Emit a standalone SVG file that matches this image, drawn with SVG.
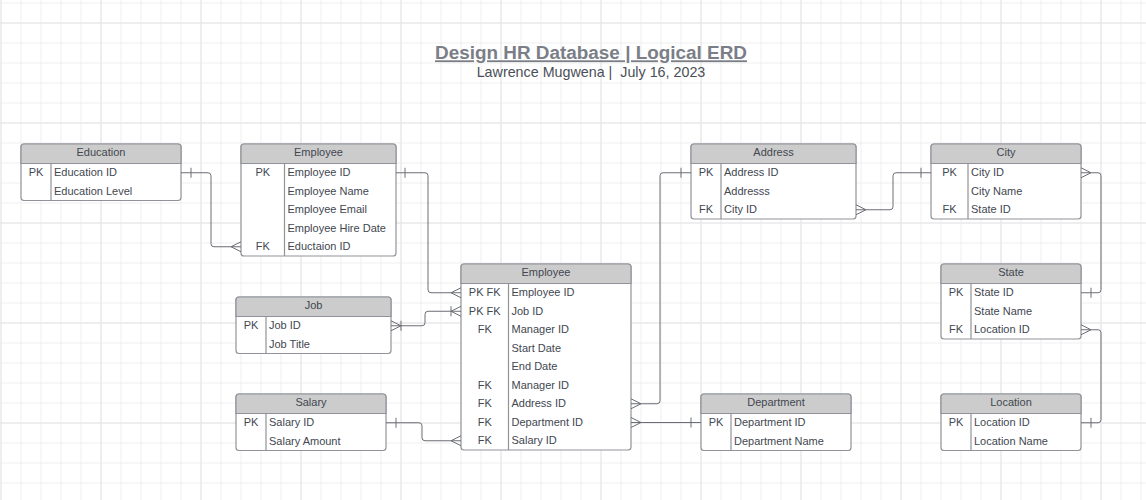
<svg xmlns="http://www.w3.org/2000/svg" width="1146" height="500" viewBox="0 0 1146 500">
<defs>
<pattern id="gMinor" width="20" height="20" patternUnits="userSpaceOnUse" x="0.5" y="2.5"><path d="M20 0.5 H0.5 V20" fill="none" stroke="#eeeeee" stroke-width="1"/></pattern>
<pattern id="gMajor" width="100" height="100" patternUnits="userSpaceOnUse" x="0.5" y="22.5"><path d="M100 0.5 H0.5 V100" fill="none" stroke="#e4e4e4" stroke-width="1"/></pattern>
</defs>
<style>
.box{fill:#ffffff;stroke:#909399;stroke-width:1.2}
.hdr{fill:#cccccc;stroke:#909399;stroke-width:1.2}
.sep{stroke:#909399;stroke-width:1.2}
text{font-family:"Liberation Sans",Arial,sans-serif;font-size:11px;fill:#424750}
.h{text-anchor:middle}
.k{text-anchor:middle}
.c{fill:none;stroke:#6b6e75;stroke-width:1}
.title{font-size:18px;font-weight:bold;fill:#7a7e87;text-decoration:underline}
.sub{font-size:14.3px;fill:#4a4f57}
</style>
<rect width="1146" height="500" fill="#ffffff"/>
<rect width="1146" height="500" fill="url(#gMinor)"/>
<rect width="1146" height="500" fill="url(#gMajor)"/>

<g id="title">
<text class="title" x="591" y="59.3" text-anchor="middle" textLength="312" lengthAdjust="spacingAndGlyphs">Design HR Database | Logical ERD</text>
<text class="sub" x="591" y="76.7" text-anchor="middle" xml:space="preserve">Lawrence Mugwena |  July 16, 2023</text>
</g>

<g id="education">
<rect class="box" x="21" y="144" width="160" height="56.5" rx="3"/>
<path class="hdr" d="M21 163.5 V147 Q21 144 24 144 H178 Q181 144 181 147 V163.5 Z"/>
<line class="sep" x1="51" y1="163.5" x2="51" y2="200.5"/>
<text class="h" x="101" y="156">Education</text>
<text class="k" x="36" y="176">PK</text>
<text x="54" y="176">Education ID</text>
<text x="54" y="194.5">Education Level</text>
</g>

<g id="employee-top">
<rect class="box" x="241" y="144" width="155" height="112" rx="3"/>
<path class="hdr" d="M241 163.5 V147 Q241 144 244 144 H393 Q396 144 396 147 V163.5 Z"/>
<line class="sep" x1="284.5" y1="163.5" x2="284.5" y2="256"/>
<text class="h" x="318.5" y="156">Employee</text>
<text class="k" x="262.75" y="176">PK</text>
<text x="287.5" y="176">Employee ID</text>
<text x="287.5" y="194.5">Employee Name</text>
<text x="287.5" y="213">Employee Email</text>
<text x="287.5" y="231.5">Employee Hire Date</text>
<text class="k" x="262.75" y="250">FK</text>
<text x="287.5" y="250">Eductaion ID</text>
</g>

<g id="job">
<rect class="box" x="236" y="297" width="155" height="56.5" rx="3"/>
<path class="hdr" d="M236 316.5 V300 Q236 297 239 297 H388 Q391 297 391 300 V316.5 Z"/>
<line class="sep" x1="266" y1="316.5" x2="266" y2="353.5"/>
<text class="h" x="313.5" y="309">Job</text>
<text class="k" x="251" y="329">PK</text>
<text x="269" y="329">Job ID</text>
<text x="269" y="347.5">Job Title</text>
</g>

<g id="salary">
<rect class="box" x="236" y="394" width="150" height="56.5" rx="3"/>
<path class="hdr" d="M236 413.5 V397 Q236 394 239 394 H383 Q386 394 386 397 V413.5 Z"/>
<line class="sep" x1="266" y1="413.5" x2="266" y2="450.5"/>
<text class="h" x="311" y="406">Salary</text>
<text class="k" x="251" y="426">PK</text>
<text x="269" y="426">Salary ID</text>
<text x="269" y="444.5">Salary Amount</text>
</g>

<g id="employee-main">
<rect class="box" x="461" y="264" width="170" height="186" rx="3"/>
<path class="hdr" d="M461 283.5 V267 Q461 264 464 264 H628 Q631 264 631 267 V283.5 Z"/>
<line class="sep" x1="508.5" y1="283.5" x2="508.5" y2="450"/>
<text class="h" x="546" y="276">Employee</text>
<text class="k" x="484.75" y="296">PK FK</text>
<text x="511.5" y="296">Employee ID</text>
<text class="k" x="484.75" y="314.5">PK FK</text>
<text x="511.5" y="314.5">Job ID</text>
<text class="k" x="484.75" y="333">FK</text>
<text x="511.5" y="333">Manager ID</text>
<text x="511.5" y="351.5">Start Date</text>
<text x="511.5" y="370">End Date</text>
<text class="k" x="484.75" y="388.5">FK</text>
<text x="511.5" y="388.5">Manager ID</text>
<text class="k" x="484.75" y="407">FK</text>
<text x="511.5" y="407">Address ID</text>
<text class="k" x="484.75" y="425.5">FK</text>
<text x="511.5" y="425.5">Department ID</text>
<text class="k" x="484.75" y="444">FK</text>
<text x="511.5" y="444">Salary ID</text>
</g>

<g id="address">
<rect class="box" x="691" y="144" width="165" height="75" rx="3"/>
<path class="hdr" d="M691 163.5 V147 Q691 144 694 144 H853 Q856 144 856 147 V163.5 Z"/>
<line class="sep" x1="721" y1="163.5" x2="721" y2="219"/>
<text class="h" x="773.5" y="156">Address</text>
<text class="k" x="706" y="176">PK</text>
<text x="724" y="176">Address ID</text>
<text x="724" y="194.5">Addresss</text>
<text class="k" x="706" y="213">FK</text>
<text x="724" y="213">City ID</text>
</g>

<g id="city">
<rect class="box" x="931" y="144" width="150" height="75" rx="3"/>
<path class="hdr" d="M931 163.5 V147 Q931 144 934 144 H1078 Q1081 144 1081 147 V163.5 Z"/>
<line class="sep" x1="968" y1="163.5" x2="968" y2="219"/>
<text class="h" x="1006" y="156">City</text>
<text class="k" x="949.5" y="176">PK</text>
<text x="971" y="176">City ID</text>
<text x="971" y="194.5">City Name</text>
<text class="k" x="949.5" y="213">FK</text>
<text x="971" y="213">State ID</text>
</g>

<g id="state">
<rect class="box" x="941" y="264" width="140" height="75" rx="3"/>
<path class="hdr" d="M941 283.5 V267 Q941 264 944 264 H1078 Q1081 264 1081 267 V283.5 Z"/>
<line class="sep" x1="971" y1="283.5" x2="971" y2="339"/>
<text class="h" x="1011" y="276">State</text>
<text class="k" x="956" y="296">PK</text>
<text x="974" y="296">State ID</text>
<text x="974" y="314.5">State Name</text>
<text class="k" x="956" y="333">FK</text>
<text x="974" y="333">Location ID</text>
</g>

<g id="location">
<rect class="box" x="941" y="394" width="140" height="56.5" rx="3"/>
<path class="hdr" d="M941 413.5 V397 Q941 394 944 394 H1078 Q1081 394 1081 397 V413.5 Z"/>
<line class="sep" x1="971" y1="413.5" x2="971" y2="450.5"/>
<text class="h" x="1011" y="406">Location</text>
<text class="k" x="956" y="426">PK</text>
<text x="974" y="426">Location ID</text>
<text x="974" y="444.5">Location Name</text>
</g>

<g id="department">
<rect class="box" x="701" y="394" width="150" height="56.5" rx="3"/>
<path class="hdr" d="M701 413.5 V397 Q701 394 704 394 H848 Q851 394 851 397 V413.5 Z"/>
<line class="sep" x1="731" y1="413.5" x2="731" y2="450.5"/>
<text class="h" x="776" y="406">Department</text>
<text class="k" x="716" y="426">PK</text>
<text x="734" y="426">Department ID</text>
<text x="734" y="444.5">Department Name</text>
</g>

<g id="connectors">
<path class="c" d="M181 172.75 H208 Q211 172.75 211 175.75 V243.75 Q211 246.75 214 246.75 H241"/>
<path class="c" d="M191 167.75 V177.75 M231 246.75 L241 241.75 M231 246.75 L241 251.75"/>

<path class="c" d="M396 172.75 H425 Q428 172.75 428 175.75 V289.75 Q428 292.75 431 292.75 H461"/>
<path class="c" d="M405 167.75 V177.75 M451 292.75 L461 287.75 M451 292.75 L461 297.75"/>

<path class="c" d="M391 325.75 H422 Q425 325.75 425 322.75 V314.25 Q425 311.25 428 311.25 H461"/>
<path class="c" d="M401 325.75 L391 320.75 M401 325.75 L391 330.75 M401 320.75 V330.75 M451 311.25 L461 306.25 M451 311.25 L461 316.25 M451 306.25 V316.25"/>

<path class="c" d="M386 422.75 H419 Q422 422.75 422 425.75 V437.75 Q422 440.75 425 440.75 H461"/>
<path class="c" d="M396 417.75 V427.75 M451 440.75 L461 435.75 M451 440.75 L461 445.75"/>

<path class="c" d="M631 403.75 H657 Q660 403.75 660 400.75 V175.75 Q660 172.75 663 172.75 H691"/>
<path class="c" d="M641 403.75 L631 398.75 M641 403.75 L631 408.75 M681 167.75 V177.75"/>

<path class="c" d="M631 422.5 H701"/>
<path class="c" d="M641 422.5 L631 417.5 M641 422.5 L631 427.5 M691 417.5 V427.5"/>

<path class="c" d="M856 209.75 H890 Q893 209.75 893 206.75 V175.75 Q893 172.75 896 172.75 H931"/>
<path class="c" d="M866 209.75 L856 204.75 M866 209.75 L856 214.75 M921 167.75 V177.75"/>

<path class="c" d="M1081 172.75 H1098 Q1101 172.75 1101 175.75 V289.75 Q1101 292.75 1098 292.75 H1081"/>
<path class="c" d="M1091 172.75 L1081 167.75 M1091 172.75 L1081 177.75 M1091 287.75 V297.75"/>

<path class="c" d="M1081 329.75 H1098 Q1101 329.75 1101 332.75 V419.75 Q1101 422.75 1098 422.75 H1081"/>
<path class="c" d="M1091 329.75 L1081 324.75 M1091 329.75 L1081 334.75 M1091 417.75 V427.75"/>
</g>
</svg>
